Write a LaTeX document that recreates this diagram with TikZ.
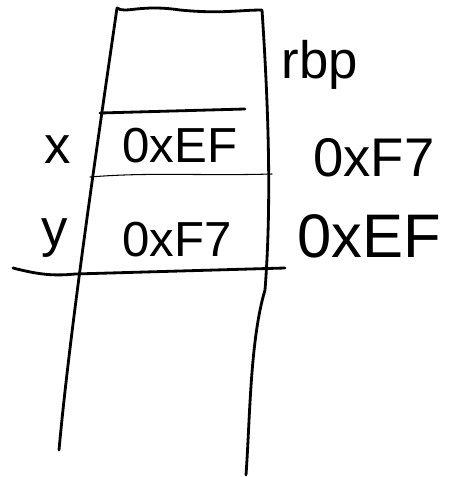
\documentclass[tikz,border=0pt]{standalone}
\usepackage{fontspec}
\setmainfont{Liberation Sans}
\tikzset{every picture/.style={line width=1.6pt}}
\tikzset{
    stackline/.style={draw, line cap=round, line join=round},
    slotline/.style={draw, line width=0.6pt, line cap=round},
    cellval/.style={font=\fontsize{28}{28}\selectfont, inner sep=0pt},
    sideval/.style={font=\fontsize{31}{31}\selectfont, inner sep=0pt},
    varname/.style={font=\fontsize{30}{30}\selectfont, inner sep=0pt}
}
\begin{document}
\begin{tikzpicture}[x=0.02cm, y=-0.02cm]
            \useasboundingbox (0,0) rectangle (453,477);
            % stack frame walls
            \draw[stackline] (59,450) .. controls (70,330) and (95,160) .. (117,8)
                .. controls (125,14) and (140,4) .. (180,10) .. controls (220,14) and (240,10) .. (262,10)
                .. controls (268,100) and (272,200) .. (265,290) .. controls (250,340) and (250,420) .. (246,475);
            % slot separators
            \draw[stackline] (100,113) -- (245,109);
            \draw[slotline] (90,177) .. controls (150,172) and (200,176) .. (272,174);
            \draw[stackline] (13,268) .. controls (40,275) and (55,276) .. (75,274) -- (285,268);
            % labels
            \node[varname] (rbp) at (320,65) {rbp};
            \node[varname] (xvar) at (58,150) {x};
            \node[varname] (yvar) at (55,238) {y};
            \node[cellval] (xval) at (180,146) {0xEF};
            \node[cellval] (yval) at (177,240) {0xF7};
            \node[sideval] (xside) at (374,158) {0xF7};
            \node[sideval, font=\fontsize{35}{35}\selectfont] (yside) at (369,236) {0xEF};
        \end{tikzpicture}
\end{document}
